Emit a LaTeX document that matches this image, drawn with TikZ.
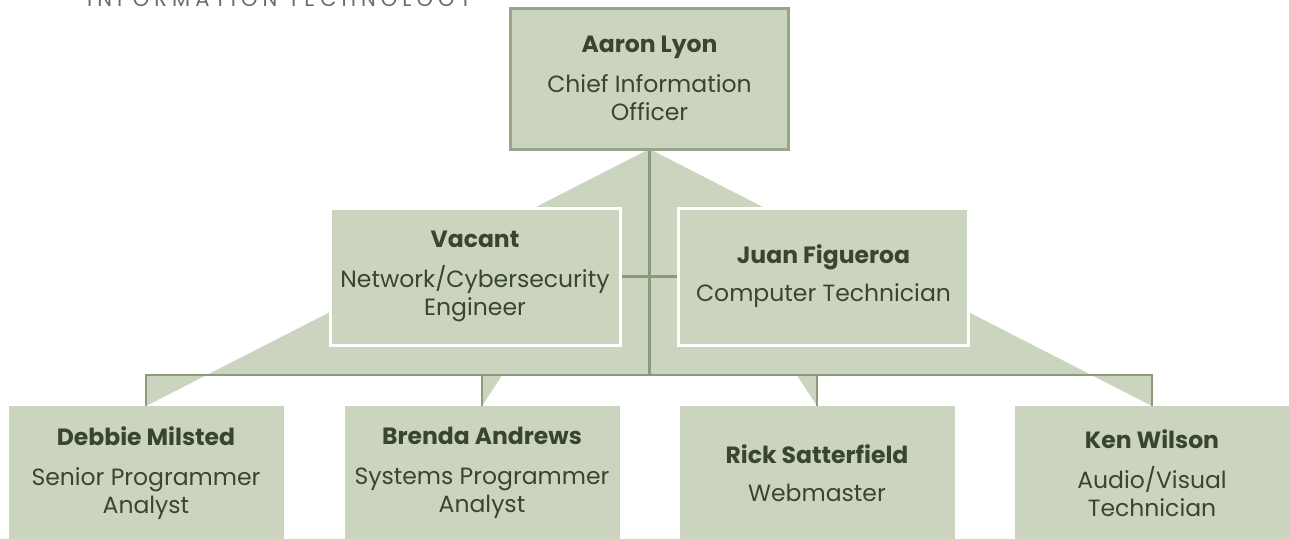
\documentclass[tikz,border=0pt]{standalone}
\usepackage{fontspec}
\setmainfont{Poppins}
\usepackage{tikz}
\usetikzlibrary{positioning}
\usetikzlibrary{calc}
\usetikzlibrary{backgrounds}
\definecolor{sage}{HTML}{CBD4BF}
\definecolor{sageline}{HTML}{8A9A7A}
\definecolor{sageedge}{HTML}{97A688}
\definecolor{ink}{HTML}{3A4530}
\definecolor{heading}{HTML}{666D6E}
\tikzstyle{box} = [rectangle, fill=sage, text=ink, inner sep=0pt, outer sep=0pt,
    align=center, font=\fontsize{23.5}{28}\selectfont]
\tikzstyle{head} = [box, draw=sageedge, line width=3pt,
    minimum width=278pt, minimum height=141pt]
\tikzstyle{deputy} = [box, draw=white, line width=3pt,
    minimum width=290pt, minimum height=137pt]
\tikzstyle{staff} = [box, minimum width=275pt, minimum height=134pt]
\tikzstyle{link} = [draw=sageline, line width=2.5pt]
\tikzstyle{backdrop} = [fill=sage]

\begin{document}
\begin{tikzpicture}[x=1pt, y=-1pt]
  \useasboundingbox (0,0) rectangle (1289,538);
  % Heading, cut at the top edge
  \node [anchor=base west, inner sep=0pt, text=heading,
         font=\fontsize{21}{24}\selectfont\addfontfeature{LetterSpace=24}]
         (dept) at (87,6) {INFORMATION TECHNOLOGY};

  % Place nodes
  \node [head] (cio) at (649.5,78.5) {{\bfseries Aaron Lyon}\\[12pt]Chief Information\\Officer};
  \node [deputy] (vacant) at (475,276.5) {{\bfseries Vacant}\\[12pt]Network/Cybersecurity\\Engineer};
  \node [deputy, right of=vacant, node distance=348.5pt] (juan) {{\bfseries Juan Figueroa}\\[10pt]Computer Technician};
  \node [staff] (debbie) at (146,473) {{\bfseries Debbie Milsted}\\[12pt]Senior Programmer\\Analyst};
  \node [staff, right of=debbie, node distance=336pt] (brenda) {{\bfseries Brenda Andrews}\\[12pt]Systems Programmer\\Analyst};
  \node [staff, right of=brenda, node distance=335pt] (rick) {{\bfseries Rick Satterfield}\\[10pt]Webmaster};
  \node [staff, right of=rick, node distance=335pt] (ken) {{\bfseries Ken Wilson}\\[12pt]Audio/Visual\\Technician};
  \coordinate (bus) at (649.5,375);

  \begin{scope}[on background layer]
    % Backdrop shape behind the chart
    \path [backdrop] (cio.south) -- (debbie.north) -- (debbie.north |- bus)
      -- (brenda.north |- bus) -- (brenda.north)
      -- ($(cio.south)!0.879!(brenda.north)$) -- ($(cio.south)!0.879!(rick.north)$)
      -- (rick.north) -- (rick.north |- bus) -- (ken.north |- bus) -- (ken.north) -- cycle;

    % Draw edges
    \path [link] (cio.south) -- (bus);
    \path [link] (vacant.east) -- (vacant.east -| juan.west);
    \path [link] (debbie.north) |- (bus) -| (ken.north);
    \path [link] (brenda.north) -- (brenda.north |- bus);
    \path [link] (rick.north) -- (rick.north |- bus);
  \end{scope}
\end{tikzpicture}
\end{document}
